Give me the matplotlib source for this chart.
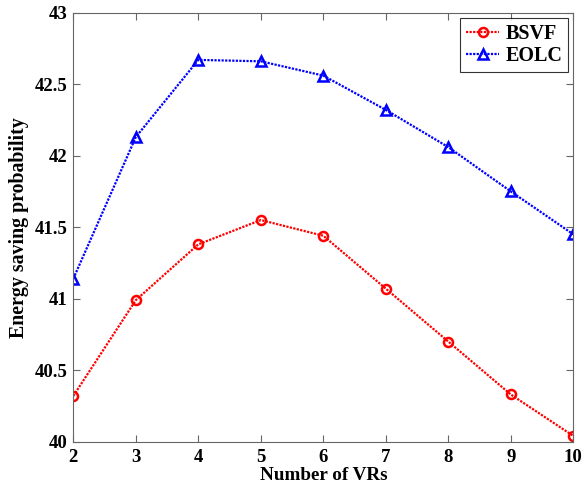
import matplotlib
matplotlib.use("Agg")
import matplotlib.pyplot as plt

vrs = [2, 3, 4, 5, 6, 7, 8, 9, 10]
bsvf = [40.32, 40.99, 41.38, 41.55, 41.44, 41.07, 40.70, 40.33, 40.04]
eolc = [41.14, 42.13, 42.67, 42.66, 42.56, 42.32, 42.06, 41.75, 41.45]
yticks = [40, 40.5, 41, 41.5, 42, 42.5, 43]
ytick_labels = ["40", "40.5", "41", "41.5", "42", "42.5", "43"]

plt.rcParams['font.family'] = ['Liberation Serif', 'DejaVu Serif']
plt.rcParams['font.weight'] = 'bold'

fig = plt.figure(figsize=(5.87, 4.88), dpi=100)
ax = fig.add_axes([0.1249, 0.0949, 0.8518, 0.8791])

ls = (0, (1, 0.6))
ax.plot(vrs, bsvf, color='red', linestyle=ls, linewidth=1.6, marker='o',
        markersize=6.5, markerfacecolor='none', markeredgewidth=1.8, label='BSVF')
ax.plot(vrs, eolc, color='blue', linestyle=ls, linewidth=1.6, marker='^',
        markersize=6.5, markerfacecolor='none', markeredgewidth=1.8, label='EOLC')

ax.set_xlim(2, 10)
ax.set_ylim(40, 43)
ax.set_xticks(vrs)
ax.set_yticks(yticks)
ax.set_yticklabels(ytick_labels)
ax.tick_params(direction='in', top=True, right=True, labelsize=13.5, length=5,
               width=0.8, color='#666666')
ax.tick_params(axis='y', pad=4)
ax.tick_params(axis='x', pad=5)
for lab in ax.get_xticklabels() + ax.get_yticklabels():
    lab.set_fontweight('bold')
for s in ax.spines.values():
    s.set_color('#666666')
    s.set_linewidth(0.8)

ax.set_xlabel('Number of VRs', fontsize=13.8, fontweight='bold', labelpad=1)
ax.set_ylabel('Energy saving probability', fontsize=14.3, fontweight='bold', labelpad=4)

leg = ax.legend(loc='upper right', fontsize=14.5, frameon=True, fancybox=False,
                edgecolor='black', handlelength=1.65, borderaxespad=0.25,
                handletextpad=0.3, borderpad=0.3, labelspacing=0.1)
leg.get_frame().set_linewidth(0.8)
for t in leg.get_texts():
    t.set_fontweight('bold')

fig.savefig('out.png', dpi=100, facecolor='white')
